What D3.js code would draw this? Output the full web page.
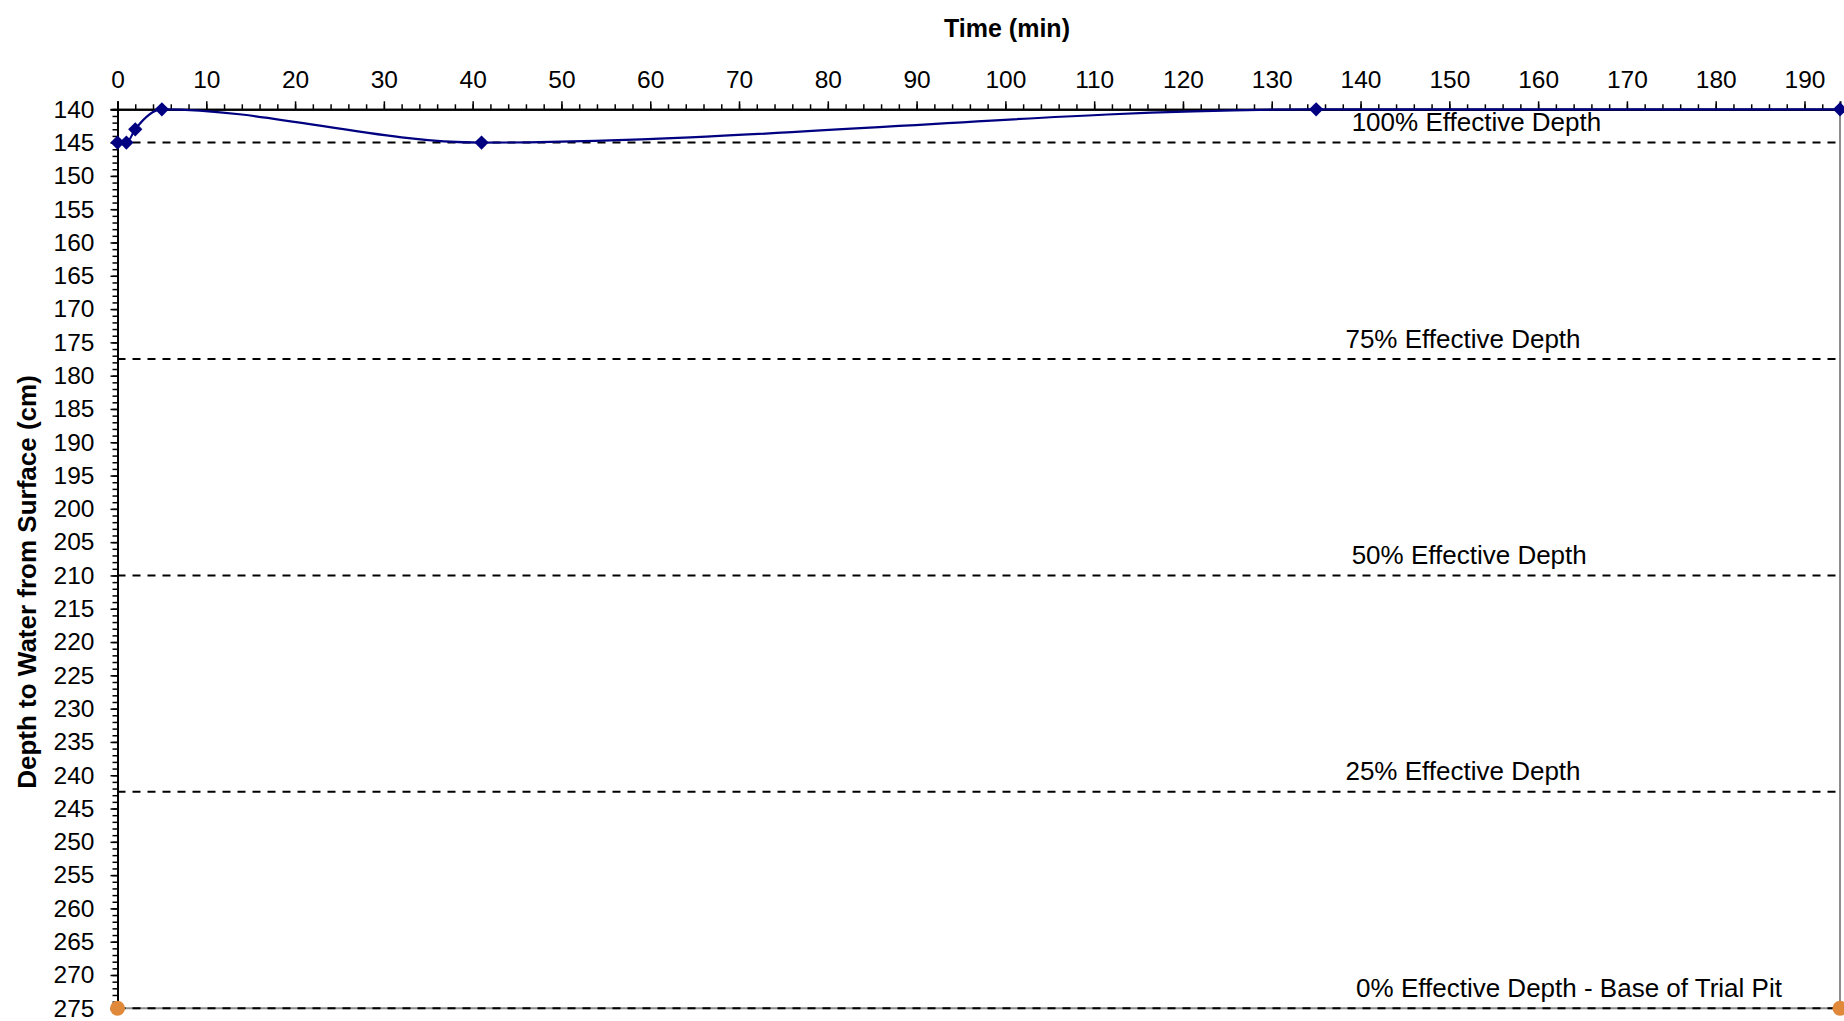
<!DOCTYPE html>
<html>
<head>
<meta charset="utf-8">
<script src="https://cdn.jsdelivr.net/npm/d3@7"></script>
<style>
  html, body { margin: 0; padding: 0; background: #fff; }
  svg { display: block; }
  text { font-family: "Liberation Sans", Arial, sans-serif; fill: #000; }
</style>
</head>
<body>
<svg id="chart" width="1844" height="1021"></svg>
<script>
// ---- Data ----
const timeMin = [0, 1, 2, 5, 41, 135, 194];
const depthCm = [145, 145, 143, 140, 145, 140, 140];
const baseTime = [0, 194];
const baseDepth = [275, 275];
const refDepths = [145, 177.5, 210, 242.5, 275];
const refLabels = ["100% Effective Depth", "75% Effective Depth", "50% Effective Depth", "25% Effective Depth", "0% Effective Depth - Base of Trial Pit"];
const refLabelTime = [139, 138.3, 139, 138.3, 139.5];
const xMajorTicks = d3.range(0, 191, 10);
const xMinorTicks = d3.range(0, 195, 2);
const yMajorTicks = d3.range(140, 276, 5);
const yMinorTicks = d3.range(140, 276, 1);
const xTitle = "Time (min)";
const yTitle = "Depth to Water from Surface (cm)";

// ---- Layout ----
const mLeft = 117.5, mRight = 1840, mTop = 109.3, mBottom = 1008.3;
const svg = d3.select("#chart");
const x = d3.scaleLinear().domain([0, 194]).range([mLeft, mRight]);
const y = d3.scaleLinear().domain([140, 275]).range([mTop, mBottom]);

// plot border (grey right/bottom)
svg.append("line").attr("x1", mRight).attr("x2", mRight).attr("y1", mTop).attr("y2", mBottom)
  .attr("stroke", "#8c8c8c").attr("stroke-width", 2);
svg.append("line").attr("x1", mLeft).attr("x2", mRight).attr("y1", mBottom).attr("y2", mBottom)
  .attr("stroke", "#8c8c8c").attr("stroke-width", 2);

// reference dashed lines
svg.append("g").selectAll("line").data(refDepths).join("line")
  .attr("x1", mLeft).attr("x2", mRight)
  .attr("y1", d => y(d)).attr("y2", d => y(d))
  .attr("stroke", "#000").attr("stroke-width", 2)
  .attr("stroke-dasharray", "8,7");

// reference labels
svg.append("g").selectAll("text").data(refLabels).join("text")
  .attr("x", (d, i) => x(refLabelTime[i]))
  .attr("y", (d, i) => y(refDepths[i]) - 11.5)
  .attr("font-size", 26)
  .text(d => d);

// axes
const xMinor = d3.axisTop(x).tickValues(xMinorTicks).tickSize(5).tickFormat("");
const xMajor = d3.axisTop(x).tickValues(xMajorTicks).tickSize(8).tickPadding(13).tickFormat(d3.format("d"));
const yMinor = d3.axisLeft(y).tickValues(yMinorTicks).tickSize(5).tickFormat("");
const yMajor = d3.axisLeft(y).tickValues(yMajorTicks).tickSize(7).tickPadding(16).tickFormat(d3.format("d"));

function styleAxis(g) {
  g.select(".domain").attr("stroke", "#000").attr("stroke-width", 2);
  g.selectAll(".tick line").attr("stroke", "#000").attr("stroke-width", 1.5);
  g.selectAll(".tick text").attr("font-size", 24.5).attr("fill", "#000")
    .attr("font-family", "'Liberation Sans', Arial, sans-serif");
}
svg.append("g").attr("transform", `translate(0,${mTop})`).call(xMinor).call(styleAxis);
svg.append("g").attr("transform", `translate(0,${mTop})`).call(xMajor).call(styleAxis);
svg.append("g").attr("transform", `translate(${mLeft},0)`).call(yMinor).call(styleAxis);
svg.append("g").attr("transform", `translate(${mLeft},0)`).call(yMajor).call(styleAxis);

// titles
svg.append("text").attr("x", 1007).attr("y", 37).attr("text-anchor", "middle")
  .attr("font-size", 25).attr("font-weight", "bold").text(xTitle);
svg.append("text").attr("transform", "translate(36,582) rotate(-90)")
  .attr("text-anchor", "middle").attr("font-size", 26).attr("font-weight", "bold").text(yTitle);

// data line
const pts = timeMin.map((t, i) => [t, depthCm[i]]);
const line = d3.line().x(d => x(d[0])).y(d => y(d[1])).curve(d3.curveMonotoneX);
svg.append("path").datum(pts).attr("d", line)
  .attr("fill", "none").attr("stroke", "#000080").attr("stroke-width", 2.2);

// diamond markers
const diamond = d3.symbol().type(d3.symbolDiamond2).size(130);
svg.append("g").selectAll("path").data(pts).join("path")
  .attr("transform", d => `translate(${x(d[0])},${y(d[1])})`)
  .attr("d", diamond)
  .attr("fill", "#000080");

// base points (orange)
svg.append("g").selectAll("circle").data(baseTime).join("circle")
  .attr("cx", d => x(d)).attr("cy", (d, i) => y(baseDepth[i]))
  .attr("r", 7.5).attr("fill", "#E0893A");
</script>
</body>
</html>
